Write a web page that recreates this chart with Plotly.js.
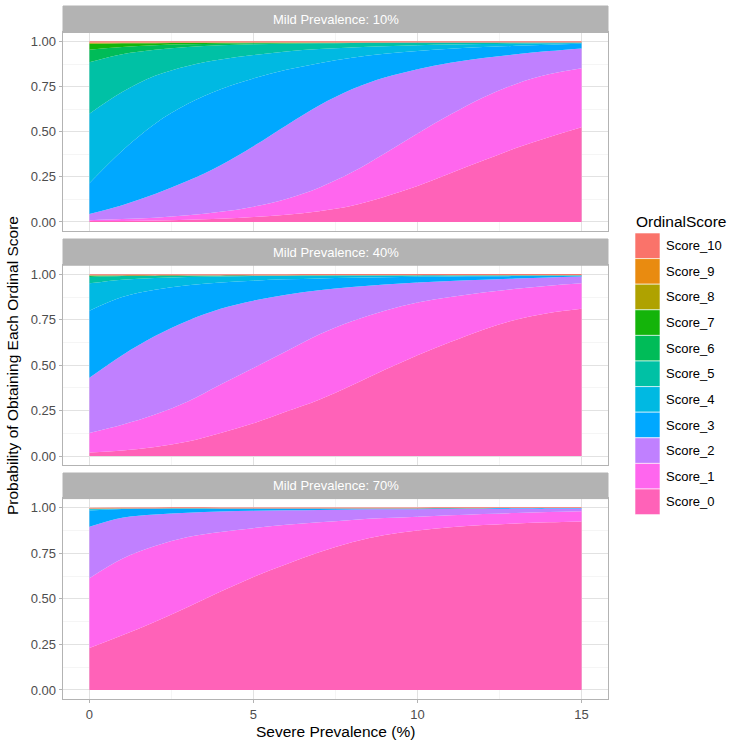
<!DOCTYPE html>
<html><head><meta charset="utf-8">
<script src="https://cdn.plot.ly/plotly-3.0.1.min.js"></script>
<style>html,body{margin:0;padding:0;background:#fff}</style>
</head><body><div id="chart" style="width:734px;height:743px"></div>
<script>
// ---------- DATA ----------
const severePrev = [0,1,2,3,4,5,6,7,8,9,10,11,12,13,14,15];
const scoreNames = ['Score_0','Score_1','Score_2','Score_3','Score_4','Score_5','Score_6','Score_7','Score_8','Score_9','Score_10'];
const scoreColors = ['#FF62B8','#FF66EE','#C080FF','#00A8FF','#00B9E2','#00C1A5','#00BC58','#14B40A','#AFA200','#E98B10','#FA736A'];
const panelTitles = ['Mild Prevalence: 10%','Mild Prevalence: 40%','Mild Prevalence: 70%'];
const xTicks = [0,5,10,15];
const yTicks = [0,0.25,0.5,0.75,1];
const yTickText = ['0.00','0.25','0.50','0.75','1.00'];

// Mild prevalence 10%
const m10_s0  = [.005,.006,.008,.012,.018,.027,.040,.060,.090,.140,.200,.270,.340,.410,.470,.525];
const m10_s1  = [.005,.010,.016,.025,.038,.058,.088,.130,.185,.240,.290,.325,.350,.355,.348,.327];
const m10_s2  = [.034,.077,.131,.191,.259,.335,.407,.455,.460,.420,.357,.287,.218,.164,.129,.110];
const m10_s3  = [.171,.302,.390,.427,.420,.375,.308,.235,.175,.132,.101,.078,.061,.047,.035,.025];
const m10_s4  = [.385,.325,.265,.210,.165,.130,.102,.078,.057,.042,.031,.023,.017,.012,.008,.005];
const m10_s5  = [.285,.210,.145,.105,.079,.060,.043,.032,.025,.019,.015,.011,.009,.007,.005,.003];
const m10_s6  = [.070,.040,.025,.015,.009,.005,.003,.002,.001,.0005,0,0,0,0,0,0];
const m10_s7  = [.033,.020,.011,.007,.005,.003,.002,.001,.0005,.0005,0,0,0,0,0,0];
const m10_s8  = [.004,.003,.002,.002,.001,.001,.001,.001,.0005,0,0,0,0,0,0,0];
const m10_s9  = [.003,.002,.002,.001,.001,.001,.001,.001,.001,.001,.001,.001,0,0,0,0];
const m10_s10 = [.006,.006,.006,.006,.006,.006,.006,.006,.006,.006,.006,.006,.006,.006,.006,.006];

// Mild prevalence 40%
const m40_s0  = [.020,.031,.050,.080,.127,.180,.245,.310,.390,.475,.555,.627,.695,.750,.787,.810];
const m40_s1  = [.107,.141,.178,.220,.266,.304,.331,.358,.351,.325,.290,.248,.205,.170,.150,.140];
const m40_s2  = [.303,.383,.432,.445,.417,.371,.312,.244,.189,.144,.110,.088,.070,.057,.046,.038];
const m40_s3  = [.370,.320,.255,.195,.145,.110,.084,.065,.051,.040,.031,.025,.019,.013,.008,.004];
const m40_s4  = [.150,.095,.065,.045,.033,.025,.019,.015,.012,.009,.008,.006,.005,.004,.003,.003];
const m40_s5  = [.035,.020,.012,.008,.006,.004,.003,.003,.002,.002,.001,.001,.001,.001,.001,0];
const m40_s6  = [.007,.003,.002,.001,0,0,0,0,0,0,0,0,0,0,0,0];
const m40_s7  = [.001,.001,0,0,0,0,0,0,0,0,0,0,0,0,0,0];
const m40_s8  = [.001,0,0,0,0,0,0,0,0,0,0,0,0,0,0,0];
const m40_s9  = [.001,.001,.001,.001,.001,.001,.001,.001,.001,.001,.001,.001,.001,.001,.001,.001];
const m40_s10 = [.005,.005,.005,.005,.005,.005,.005,.005,.005,.005,.005,.005,.005,.005,.005,.005];

// Mild prevalence 70%
const m70_s0  = [.230,.300,.375,.455,.540,.620,.690,.755,.810,.850,.875,.893,.905,.914,.920,.925];
const m70_s1  = [.383,.420,.415,.385,.327,.268,.216,.165,.123,.093,.076,.065,.060,.057,.056,.055];
const m70_s2  = [.282,.225,.173,.133,.112,.095,.080,.068,.057,.048,.041,.035,.029,.024,.019,.016];
const m70_s3  = [.090,.048,.032,.023,.017,.013,.010,.008,.006,.005,.004,.004,.003,.003,.003,.002];
const m70_s4  = [.006,.002,.001,.001,0,0,0,0,0,0,0,0,0,0,0,0];
const m70_s5  = [.002,.001,0,0,0,0,0,0,0,0,0,0,0,0,0,0];
const m70_s6  = [.001,0,0,0,0,0,0,0,0,0,0,0,0,0,0,0];
const m70_s7  = [0,0,0,0,0,0,0,0,0,0,0,0,0,0,0,0];
const m70_s8  = [.001,0,0,0,0,0,0,0,0,0,0,0,0,0,0,0];
const m70_s9  = [.001,.001,.001,.001,.001,.001,.001,.001,.001,.001,.001,.001,.001,.001,.001,.001];
const m70_s10 = [.004,.004,.004,.004,.004,.004,.004,.004,.004,.004,.004,.004,.004,.004,.004,.004];

const panelData = [
  [m10_s0,m10_s1,m10_s2,m10_s3,m10_s4,m10_s5,m10_s6,m10_s7,m10_s8,m10_s9,m10_s10],
  [m40_s0,m40_s1,m40_s2,m40_s3,m40_s4,m40_s5,m40_s6,m40_s7,m40_s8,m40_s9,m40_s10],
  [m70_s0,m70_s1,m70_s2,m70_s3,m70_s4,m70_s5,m70_s6,m70_s7,m70_s8,m70_s9,m70_s10]
];

// ---------- LAYOUT ----------
const W = 734, H = 743;
const FONT = 'Liberation Sans, Arial, sans-serif';
const px = v => v / W;
const py = v => 1 - v / H;
const panelLeft = 63, panelRight = 608;
const panelPix = [[32.5, 231], [265.2, 465.1], [498.6, 699.1]];
const stripPix = [[6, 32.5], [239, 265.2], [473, 498.6]];

const traces = [];
panelData.forEach((series, p) => {
  const xa = 'x' + (p ? p + 1 : '');
  const ya = 'y' + (p ? p + 1 : '');
  series.forEach((vals, k) => {
    traces.push({
      type: 'scatter', mode: 'lines', x: severePrev, y: vals,
      xaxis: xa, yaxis: ya, stackgroup: 'g' + p,
      line: {width: 0, shape: 'spline', smoothing: 1.0},
      fillcolor: scoreColors[k], name: scoreNames[k], showlegend: false,
      hoverinfo: 'x+y+name'
    });
  });
});

const layout = {
  width: W, height: H, margin: {l: 0, r: 0, t: 0, b: 0},
  paper_bgcolor: '#fff', plot_bgcolor: '#fff',
  font: {family: FONT, size: 13, color: '#4D4D4D'},
  showlegend: false, shapes: [], annotations: []
};

panelPix.forEach(([top, bot], p) => {
  const sfx = p ? p + 1 : '';
  layout['xaxis' + sfx] = {
    domain: [px(panelLeft), px(panelRight)], anchor: 'y' + sfx,
    range: [-0.805, 15.805], tickmode: 'array', tickvals: xTicks, ticktext: xTicks.map(String),
    showticklabels: p === 2, ticks: p === 2 ? 'outside' : '', ticklen: 3, tickcolor: '#B3B3B3',
    tickfont: {family: FONT, size: 13, color: '#4D4D4D'},
    showgrid: true, gridcolor: '#E2E2E2', gridwidth: 1,
    minor: {dtick: 2.5, tick0: 0, showgrid: true, gridcolor: '#EEEEEE', gridwidth: 0.6},
    zeroline: false, showline: true, mirror: true, linecolor: '#B3B3B3', linewidth: 1.3, fixedrange: true
  };
  layout['yaxis' + sfx] = {
    domain: [py(bot), py(top)], anchor: 'x' + sfx,
    range: [-0.05, 1.05], tickmode: 'array', tickvals: yTicks, ticktext: yTickText,
    ticks: 'outside', ticklen: 3, tickcolor: '#B3B3B3',
    tickfont: {family: FONT, size: 13, color: '#4D4D4D'},
    showgrid: true, gridcolor: '#E2E2E2', gridwidth: 1,
    minor: {dtick: 0.125, tick0: 0, showgrid: true, gridcolor: '#EEEEEE', gridwidth: 0.6},
    zeroline: false, showline: true, mirror: true, linecolor: '#B3B3B3', linewidth: 1.3, fixedrange: true
  };
  const [st, sb] = stripPix[p];
  layout.shapes.push({type: 'rect', xref: 'paper', yref: 'paper',
    x0: px(panelLeft), x1: px(panelRight), y0: py(sb), y1: py(st),
    fillcolor: '#B3B3B3', line: {width: 1, color: '#B3B3B3'}, layer: 'above'});
  layout.annotations.push({xref: 'paper', yref: 'paper', x: px((panelLeft + panelRight) / 2), y: py((st + sb) / 2),
    text: panelTitles[p], showarrow: false, xanchor: 'center', yanchor: 'middle',
    font: {family: FONT, size: 13, color: '#FFFFFF'}});
});

layout.annotations.push({xref: 'paper', yref: 'paper', x: px(335.5), y: py(731),
  text: 'Severe Prevalence (%)', showarrow: false, xanchor: 'center', yanchor: 'middle',
  font: {family: FONT, size: 15.5, color: '#000'}});
layout.annotations.push({xref: 'paper', yref: 'paper', x: px(12), y: py(366),
  text: 'Probability of Obtaining Each Ordinal Score', showarrow: false, textangle: -90,
  xanchor: 'center', yanchor: 'middle', font: {family: FONT, size: 15.5, color: '#000'}});

layout.annotations.push({xref: 'paper', yref: 'paper', x: px(634), y: py(221.5),
  text: 'OrdinalScore', showarrow: false, xanchor: 'left', yanchor: 'middle',
  font: {family: FONT, size: 15.5, color: '#000'}});
const keyTop = 233, keyH = 25.6;
for (let i = 0; i < scoreNames.length; i++) {
  const k = scoreNames.length - 1 - i;
  const y0 = keyTop + i * keyH;
  layout.shapes.push({type: 'rect', xref: 'paper', yref: 'paper',
    x0: px(635), x1: px(660), y0: py(y0 + keyH), y1: py(y0),
    fillcolor: scoreColors[k], line: {width: 0.6, color: '#FFFFFF'}});
  layout.annotations.push({xref: 'paper', yref: 'paper', x: px(664), y: py(y0 + keyH / 2),
    text: scoreNames[k], showarrow: false, xanchor: 'left', yanchor: 'middle',
    font: {family: FONT, size: 13, color: '#000'}});
}

Plotly.newPlot('chart', traces, layout, {displayModeBar: false, staticPlot: true});
</script>
</body></html>
